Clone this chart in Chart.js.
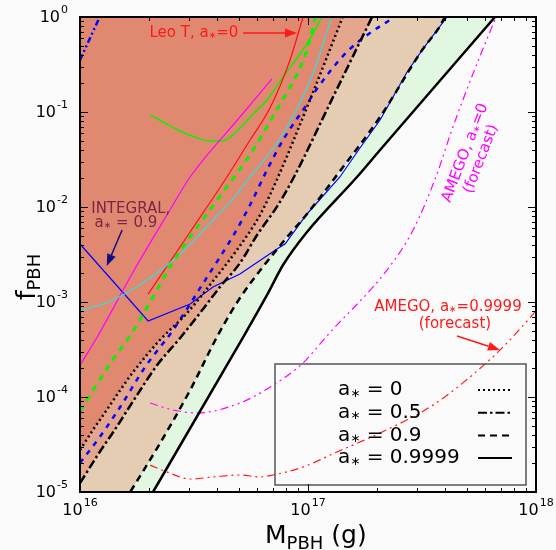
<!DOCTYPE html>
<html>
<head>
<meta charset="utf-8">
<script src="https://cdn.jsdelivr.net/npm/chart.js@4.4.0/dist/chart.umd.min.js"></script>
<style>
  html, body { margin: 0; padding: 0; background: #fafafa; }
  canvas { display: block; }
</style>
</head>
<body>
<canvas id="chart" width="556" height="550"></canvas>
<script>
// PBH mass (g) and f_PBH
// a* = 0 bound (dotted)
const m0 = [1.00e16, 1.14e16, 1.31e16, 1.50e16, 1.71e16, 2.24e16, 2.95e16, 3.83e16, 4.88e16, 6.16e16, 7.39e16, 1.02e17, 1.42e17];
const f0 = [2.77e-5, 4.50e-5, 7.30e-5, 1.18e-4, 1.83e-4, 3.98e-4, 7.66e-4, 1.66e-3, 3.53e-3, 8.24e-3, 2.07e-2, 0.134, 1];
// a* = 0.5 bound (dash-dot)
const m05 = [1.00e16, 1.22e16, 1.40e16, 1.78e16, 2.18e16, 2.75e16, 3.36e16, 4.11e16, 5.03e16, 5.98e16, 7.39e16, 8.77e16, 1.25e17, 1.91e17];
const f05 = [1.24e-5, 2.64e-5, 4.28e-5, 1.05e-4, 2.17e-4, 4.18e-4, 7.66e-4, 1.44e-3, 2.57e-3, 5.07e-3, 1.05e-2, 2.17e-2, 0.124, 1];
// a* = 0.9 bound (dashed)
const m09 = [1.00e16, 1.66e16, 2.18e16, 3.04e16, 4.03e16, 5.03e16, 7.77e16, 9.90e16, 1.34e17, 2.07e17, 2.46e17, 2.75e17, 3.19e17, 3.72e17, 3.99e17];
const f09 = [1.4e-6, 1e-5, 2.90e-5, 1.18e-4, 4.49e-4, 1.10e-3, 4.28e-3, 8.44e-3, 2.17e-2, 8.86e-2, 0.170, 0.264, 0.460, 0.748, 1];
// a* = 0.9999 bound (solid)
const m09999 = [1.00e16, 2.09e16, 5.29e16, 6.68e16, 7.77e16, 9.90e16, 1.64e17, 2.07e17, 6.61e17];
const f09999 = [5e-7, 1e-5, 4.60e-4, 1.24e-3, 2.45e-3, 5.46e-3, 2.07e-2, 3.98e-2, 1];

// other constraints
const blueDashM = [1.00e16, 1.22e16, 1.50e16, 1.93e16, 2.56e16, 3.61e16, 4.69e16, 5.57e16, 6.61e16, 7.77e16, 9.90e16, 1.10e17, 1.48e17, 1.87e17, 2.29e17];
const blueDashF = [2.02e-5, 3.79e-5, 7.85e-5, 2.07e-4, 5.07e-4, 1.83e-3, 4.95e-3, 1.05e-2, 2.45e-2, 5.07e-2, 0.121, 0.179, 0.428, 0.679, 0.930];
const greenDashM = [1.00e16, 1.38e16, 1.69e16, 2.03e16, 2.56e16, 3.99e16, 5.74e16, 7.54e16, 8.95e16, 9.90e16, 1.08e17];
const greenDashF = [7.12e-5, 2.39e-4, 4.72e-4, 1.0e-3, 2.64e-3, 1.18e-2, 3.98e-2, 0.121, 0.251, 0.449, 1];
const cyanM = [1.00e16, 1.40e16, 1.97e16, 2.75e16, 3.83e16, 4.64e16, 5.57e16, 7.77e16, 1.05e17, 1.27e17];
const cyanF = [8.04e-4, 1.05e-3, 1.70e-3, 3.20e-3, 7.30e-3, 1.18e-2, 2.07e-2, 5.87e-2, 0.251, 1];
const leoM = [1.99e16, 3.04e16, 4.41e16, 5.57e16, 6.81e16, 8.34e16, 9.51e16];
const leoF = [1.21e-3, 5.46e-3, 2.07e-2, 5.07e-2, 0.110, 0.353, 1];
const magentaM = [1.00e16, 1.19e16, 1.71e16, 2.48e16, 3.04e16, 5.03e16, 6.95e16];
const magentaF = [2.17e-4, 4.28e-4, 2.07e-3, 9.30e-3, 2.07e-2, 8.86e-2, 0.223];
const greenM = [2.03e16, 2.36e16, 2.75e16, 3.19e16, 3.72e16, 4.20e16, 5.03e16, 5.74e16, 6.61e16, 7.77e16, 9.22e16, 1.05e17, 1.15e17];
const greenF = [0.0930, 0.0766, 0.0631, 0.0546, 0.0495, 0.0495, 0.0678, 0.0953, 0.134, 0.234, 0.408, 0.662, 1];
const blueDdM = [1.00e16, 1.22e16];
const blueDdF = [0.353, 1];
const integralM = [1.00e16, 1.99e16, 3.04e16, 3.83e16, 5.03e16, 7.31e16, 7.93e16, 9.90e16, 1.38e17, 1.69e17, 2.07e17, 2.36e17, 2.72e17, 3.19e17, 4.07e17];
const integralF = [4.08e-3, 6.31e-4, 9.53e-4, 1.44e-3, 1.97e-3, 3.61e-3, 4.08e-3, 8.44e-3, 2.07e-2, 4.18e-2, 8.24e-2, 0.144, 0.264, 0.460, 1];
const amego0M = [2.03e16, 2.56e16, 3.26e16, 5.03e16, 6.81e16, 9.51e16, 1.22e17, 2.22e17, 2.89e17, 3.68e17, 4.20e17, 4.78e17, 5.68e17, 6.68e17];
const amego0F = [8.65e-5, 7.30e-5, 6.79e-5, 8.65e-5, 1.27e-4, 2.28e-4, 4.49e-4, 2.17e-3, 5.73e-3, 2.23e-2, 5.73e-2, 0.134, 0.388, 1];
const amego1M = [2.03e16, 2.41e16, 3.04e16, 3.83e16, 5.03e16, 6.16e16, 7.02e16, 9.51e16, 1.34e17, 2.07e17, 3.43e17, 5.13e17, 7.17e17, 1.0e18];
const amego1F = [1.92e-5, 1.62e-5, 1.37e-5, 1.44e-5, 1.51e-5, 1.44e-5, 1.51e-5, 1.83e-5, 2.64e-5, 4.18e-5, 7.85e-5, 1.62e-4, 3.36e-4, 8.04e-4];

// axis decades and legend text
const xDecades = [16, 17, 18];
const yDecades = [0, -1, -2, -3, -4, -5];
const legendLabels = ['a∗ = 0', 'a∗ = 0.5', 'a∗ = 0.9', 'a∗ = 0.9999'];

const FONT = '"DejaVu Sans", sans-serif';
const legendDashes = [[2, 3], [9, 3, 2.5, 3], [7, 5], []];

function pts(ms, fs) {
  return ms.map((m, i) => ({ x: m, y: fs[i] }));
}

function line(ctx, x1, y1, x2, y2) {
  ctx.beginPath();
  ctx.moveTo(x1, y1);
  ctx.lineTo(x2, y2);
  ctx.stroke();
}

function arrow(ctx, x1, y1, x2, y2, color) {
  const ang = Math.atan2(y2 - y1, x2 - x1);
  const hl = 12, hw = 4.5;
  ctx.strokeStyle = color;
  ctx.fillStyle = color;
  ctx.lineWidth = 1.5;
  ctx.setLineDash([]);
  const bx = x2 - hl * Math.cos(ang), by = y2 - hl * Math.sin(ang);
  line(ctx, x1, y1, bx, by);
  ctx.beginPath();
  ctx.moveTo(x2, y2);
  ctx.lineTo(bx + hw * Math.sin(ang), by - hw * Math.cos(ang));
  ctx.lineTo(bx - hw * Math.sin(ang), by + hw * Math.cos(ang));
  ctx.closePath();
  ctx.fill();
}

// text where the spin star is drawn small and lowered
function starText(ctx, text, x, y, size, align) {
  const parts = text.split('∗');
  const big = size + 'px ' + FONT, small = Math.round(size * 0.6) + 'px ' + FONT;
  const pieces = [];
  parts.forEach((p, i) => {
    if (p) pieces.push({ t: p, f: big, dy: 0 });
    if (i < parts.length - 1) pieces.push({ t: '∗', f: small, dy: size * 0.18 });
  });
  let total = 0;
  pieces.forEach(pc => { ctx.font = pc.f; pc.w = ctx.measureText(pc.t).width; total += pc.w; });
  let cx = align === 'center' ? x - total / 2 : (align === 'right' ? x - total : x);
  ctx.textAlign = 'left';
  ctx.textBaseline = 'middle';
  pieces.forEach(pc => { ctx.font = pc.f; ctx.fillText(pc.t, cx, y + pc.dy); cx += pc.w; });
}

function powLabel(ctx, exp, x, y, align) {
  const base = '10', sup = String(exp);
  ctx.font = '16px ' + FONT;
  const wb = ctx.measureText(base).width;
  ctx.font = '11px ' + FONT;
  const ws = ctx.measureText(sup).width;
  const x0 = align === 'right' ? x - wb - ws - 1 : x - (wb + ws + 1) / 2;
  ctx.textAlign = 'left';
  ctx.textBaseline = 'middle';
  ctx.font = '16px ' + FONT;
  ctx.fillText(base, x0, y);
  ctx.font = '11px ' + FONT;
  ctx.fillText(sup, x0 + wb + 1, y - 8);
}

// text labels placed in data coordinates
const notes = [
  { lines: ['Leo T, a∗=0'], m: 3.16e16, f: 0.68, color: '#ff1a1a', size: 15 },
  { lines: ['INTEGRAL,'], m: 1.67e16, f: 9.53e-3, color: '#7d2448', size: 15 },
  { lines: ['a∗ = 0.9'], m: 1.59e16, f: 6.79e-3, color: '#7d2448', size: 15 },
  { lines: ['AMEGO, a∗=0.9999'], m: 4.11e17, f: 8.85e-4, color: '#ff1a1a', size: 15 },
  { lines: ['(forecast)'], m: 4.41e17, f: 5.87e-4, color: '#ff1a1a', size: 15 },
  { lines: ['AMEGO, a∗=0', '(forecast)'], m: 5.30e17, f: 0.0345, color: '#ff00ff', size: 15, rot: -69 }
];
const arrows = [
  { from: [5.19e16, 0.68], to: [8.95e16, 0.68], color: '#ff1a1a' },
  { from: [1.53e16, 5.73e-3], to: [1.31e16, 2.39e-3], color: '#0d0d80' },
  { from: [4.50e17, 4.39e-4], to: [6.95e17, 3.13e-4], color: '#ff1a1a' }
];

const decor = {
  id: 'decor',
  afterDatasetsDraw(chart) {
    const { ctx, chartArea: a, scales: { x, y } } = chart;
    ctx.save();

    // annotations
    notes.forEach(n => {
      const px = x.getPixelForValue(n.m), py = y.getPixelForValue(n.f);
      ctx.save();
      ctx.translate(px, py);
      if (n.rot) ctx.rotate(n.rot * Math.PI / 180);
      ctx.fillStyle = n.color;
      const step = n.size + 2;
      n.lines.forEach((t, i) => {
        starText(ctx, t, 0, (i - (n.lines.length - 1) / 2) * step, n.size, 'center');
      });
      ctx.restore();
    });
    arrows.forEach(ar => {
      arrow(ctx, x.getPixelForValue(ar.from[0]), y.getPixelForValue(ar.from[1]),
        x.getPixelForValue(ar.to[0]), y.getPixelForValue(ar.to[1]), ar.color);
    });

    // legend box
    ctx.setLineDash([]);
    ctx.strokeStyle = '#555';
    ctx.lineWidth = 1.5;
    ctx.strokeRect(275, 364, 251, 121);
    legendLabels.forEach((t, i) => {
      const ly = 390 + i * 22.7;
      ctx.fillStyle = '#000';
      starText(ctx, t, 338, ly, 20, 'left');
      ctx.strokeStyle = '#000';
      ctx.lineWidth = 2;
      ctx.setLineDash(legendDashes[i]);
      line(ctx, 478, ly, 512, ly);
    });
    ctx.setLineDash([]);

    // ticks on all four sides
    ctx.strokeStyle = '#000';
    ctx.lineWidth = 1;
    xDecades.forEach(e => {
      for (let k = 1; k < 10; k++) {
        const v = k * Math.pow(10, e);
        if (v > x.max * 1.0001) break;
        const px = Math.round(x.getPixelForValue(v)) + 0.5;
        const len = k === 1 ? 8 : 4;
        line(ctx, px, a.bottom, px, a.bottom - len);
        line(ctx, px, a.top, px, a.top + len);
      }
    });
    yDecades.forEach(e => {
      for (let k = 1; k < 10; k++) {
        const v = k * Math.pow(10, e);
        if (v > y.max * 1.0001) break;
        const py = Math.round(y.getPixelForValue(v)) + 0.5;
        const len = k === 1 ? 8 : 4;
        line(ctx, a.left, py, a.left + len, py);
        line(ctx, a.right, py, a.right - len, py);
      }
    });
    ctx.lineWidth = 2;
    ctx.strokeRect(a.left, a.top, a.right - a.left, a.bottom - a.top);

    // tick labels
    ctx.fillStyle = '#000';
    xDecades.forEach(e => powLabel(ctx, e, x.getPixelForValue(Math.pow(10, e)), 511, 'center'));
    yDecades.forEach(e => powLabel(ctx, e, 68, y.getPixelForValue(Math.pow(10, e)) + 1, 'right'));

    // axis titles
    ctx.textAlign = 'left';
    ctx.textBaseline = 'alphabetic';
    ctx.font = '25px ' + FONT;
    const wM = ctx.measureText('M').width;
    ctx.fillText('M', 265, 543);
    ctx.font = '18px ' + FONT;
    const wP = ctx.measureText('PBH').width;
    ctx.fillText('PBH', 265 + wM, 549);
    ctx.font = '25px ' + FONT;
    ctx.fillText(' (g)', 265 + wM + wP, 543);

    ctx.save();
    ctx.translate(35, 300);
    ctx.rotate(-Math.PI / 2);
    ctx.font = '27px ' + FONT;
    const wf = ctx.measureText('f').width;
    ctx.fillText('f', 0, 0);
    ctx.font = '18px ' + FONT;
    ctx.fillText('PBH', wf, 5);
    ctx.restore();

    ctx.restore();
  }
};

const thin = (data, color, extra) => Object.assign({
  data, borderColor: color, borderWidth: 1.2, fill: false, cubicInterpolationMode: 'monotone'
}, extra || {});

new Chart(document.getElementById('chart'), {
  type: 'line',
  data: {
    datasets: [
      { data: pts(m0, f0), borderColor: '#000', borderWidth: 2.5, borderDash: [2, 3], fill: 'end', backgroundColor: '#e18970', cubicInterpolationMode: 'monotone' },
      { data: pts(m05, f05), borderColor: '#000', borderWidth: 2.5, borderDash: [9, 3, 2.5, 3], fill: 'end', backgroundColor: '#e4a68d', cubicInterpolationMode: 'monotone' },
      { data: pts(m09, f09), borderColor: '#000', borderWidth: 2.5, borderDash: [7, 5], fill: 'end', backgroundColor: '#e5cdb4', cubicInterpolationMode: 'monotone' },
      { data: pts(m09999, f09999), borderColor: '#000', borderWidth: 2.5, fill: 'end', backgroundColor: '#e1f7e1', cubicInterpolationMode: 'monotone' },
      thin(pts(blueDashM, blueDashF), '#0000ff', { borderWidth: 2.5, borderDash: [5, 6] }),
      thin(pts(greenDashM, greenDashF), '#11ee00', { borderWidth: 3, borderDash: [6, 6] }),
      thin(pts(cyanM, cyanF), '#33dddd'),
      thin(pts(leoM, leoF), '#ff1010'),
      thin(pts(magentaM, magentaF), '#ff00ff'),
      thin(pts(greenM, greenF), '#11ee00', { borderWidth: 1.5 }),
      thin(pts(blueDdM, blueDdF), '#0000ff', { borderWidth: 2.5, borderDash: [6, 3, 2, 3, 2, 3] }),
      thin(pts(integralM, integralF), '#0000ff', { cubicInterpolationMode: 'default', tension: 0 }),
      thin(pts(amego0M, amego0F), '#ff00ff', { borderDash: [8, 4, 2, 4, 2, 4] }),
      thin(pts(amego1M, amego1F), '#ff1a1a', { borderDash: [8, 4, 2, 4, 2, 4] })
    ]
  },
  options: {
    responsive: false,
    animation: false,
    devicePixelRatio: 1,
    layout: { padding: { left: 80, right: 20, top: 17, bottom: 58 } },
    elements: { point: { radius: 0 } },
    datasets: { line: { clip: 0 } },
    scales: {
      x: { type: 'logarithmic', min: 1e16, max: 1e18, display: false },
      y: { type: 'logarithmic', min: 1e-5, max: 1, display: false }
    },
    plugins: {
      legend: { display: false },
      tooltip: { enabled: false },
      filler: { drawTime: 'beforeDatasetsDraw' }
    }
  },
  plugins: [decor]
});
</script>
</body>
</html>
